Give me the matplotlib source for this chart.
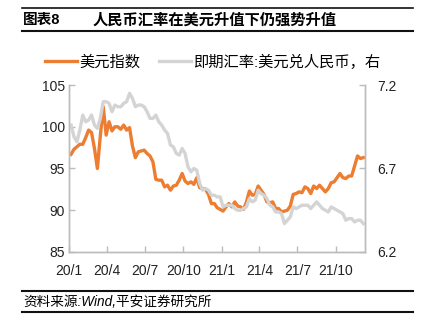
import matplotlib
matplotlib.use('Agg')
import matplotlib.pyplot as plt
import matplotlib.dates as mdates
from matplotlib.lines import Line2D
import pandas as pd

plt.rcParams['font.family'] = ['Liberation Sans', 'Noto Sans CJK SC']

# weekly (Monday) readings, 2020-01-06 .. 2021-12-06
dates = pd.date_range('2020-01-06', '2021-12-06', freq='W-MON')

dxy_2020 = [96.7, 97.3, 97.6, 97.9, 97.9, 98.7, 99.6, 99.3, 97.4, 95.0,
            98.9, 102.4, 99.0, 100.6, 99.5, 100.0, 100.0, 99.7, 100.2, 99.6,
            99.9, 97.7, 96.3, 97.0, 97.1, 97.2, 96.8, 96.5, 95.8, 93.7,
            93.6, 93.6, 92.8, 93.0, 92.4, 92.9, 93.0, 93.6, 94.4, 93.5,
            93.2, 93.4, 93.1, 93.9, 92.7, 92.6, 92.5, 91.9, 90.8, 90.8,
            90.3, 90.1]
dxy_2021 = [89.9, 90.4, 90.8, 90.4, 91.0, 90.5, 90.4, 90.1, 91.0, 92.3,
            91.8, 91.9, 92.9, 92.4, 91.9, 91.0, 90.9, 91.0, 90.2, 90.2,
            89.8, 89.9, 90.0, 90.5, 91.9, 92.0, 92.2, 92.1, 92.8, 92.6,
            92.0, 92.9, 92.6, 93.0, 92.6, 92.2, 92.6, 93.3, 93.4, 93.9,
            94.4, 93.9, 93.8, 94.1, 94.1, 95.3, 96.5, 96.2, 96.3]

cny_2020 = [6.96, 6.89, 6.86, 6.93, 7.02, 6.98, 6.99, 7.02, 6.96, 6.94,
            7.00, 7.10, 7.10, 7.09, 7.04, 7.08, 7.07, 7.07, 7.09, 7.10,
            7.15, 7.12, 7.07, 7.08, 7.08, 7.07, 7.04, 7.00, 7.00, 7.02,
            6.98, 6.96, 6.93, 6.91, 6.84, 6.83, 6.79, 6.78, 6.82, 6.79,
            6.71, 6.68, 6.70, 6.69, 6.61, 6.57, 6.58, 6.57, 6.54, 6.54,
            6.53, 6.53]
cny_2021 = [6.47, 6.48, 6.48, 6.48, 6.46, 6.45, 6.45, 6.46, 6.47, 6.52,
            6.50, 6.51, 6.57, 6.55, 6.54, 6.52, 6.48, 6.47, 6.44, 6.44,
            6.43, 6.37, 6.39, 6.41, 6.47, 6.46, 6.47, 6.48, 6.48, 6.48,
            6.46, 6.48, 6.50, 6.48, 6.46, 6.45, 6.44, 6.47, 6.46, 6.45,
            6.44, 6.43, 6.39, 6.40, 6.40, 6.38, 6.39, 6.39, 6.37]

dxy = dxy_2020 + dxy_2021
cny = cny_2020 + cny_2021

left_ticks = [85, 90, 95, 100, 105]
right_ticks = [6.2, 6.7, 7.2]
x_ticks = ['2020-01-01', '2020-04-01', '2020-07-01', '2020-10-01',
           '2021-01-01', '2021-04-01', '2021-07-01', '2021-10-01']
x_labels = ['20/1', '20/4', '20/7', '20/10', '21/1', '21/4', '21/7', '21/10']

orange = '#ed7d31'
gray = '#d4d4d4'
axis_c = '#bcbcbc'

fig = plt.figure(figsize=(4.22, 3.30), dpi=100)
ax = fig.add_axes([0.1635, 0.2364, 0.7015, 0.506])
ax2 = ax.twinx()

l1, = ax.plot(dates, dxy, color=orange, lw=2.4, solid_joinstyle='round')
l2, = ax2.plot(dates, cny, color=gray, lw=2.4, solid_joinstyle='round')

ax.set_xlim(pd.Timestamp('2020-01-01'), pd.Timestamp('2021-12-10'))
ax.set_ylim(85, 105)
ax2.set_ylim(6.2, 7.2)
ax.set_yticks(left_ticks)
ax.set_yticklabels([str(v) for v in left_ticks])
ax2.set_yticks(right_ticks)
ax2.set_yticklabels([str(v) for v in right_ticks])
ax.set_xticks([mdates.date2num(pd.Timestamp(d)) for d in x_ticks])
ax.set_xticklabels(x_labels)

for a in (ax, ax2):
    a.spines['top'].set_visible(False)
    for s in ('left', 'right', 'bottom'):
        a.spines[s].set_color(axis_c)
        a.spines[s].set_linewidth(1.0)
    a.tick_params(direction='in', length=4, width=1.0, color=axis_c,
                  labelsize=10, labelcolor='#222222')
ax.tick_params(axis='y', pad=3)
ax.tick_params(axis='x', pad=9)
ax2.tick_params(axis='y', pad=9)

fig.legend([l1, l2], ['美元指数', '即期汇率:美元兑人民币，右'],
           loc='center left', bbox_to_anchor=(0.107, 0.812), ncol=2,
           frameon=False, fontsize=11, handlelength=2.1, handletextpad=0.15,
           columnspacing=1.2, borderpad=0, borderaxespad=0)

# header and footer rules
for y, lw in ((1 - 8 / 330, 1.2), (1 - 31 / 330, 1.5), (1 - 291 / 330, 1.5), (1 - 312 / 330, 1.5)):
    fig.add_artist(Line2D([22 / 422, 413 / 422], [y, y], transform=fig.transFigure,
                          color='#111111', lw=lw))

fig.text(23 / 422, 1 - 20 / 330, '图表8', fontsize=10.5, fontweight='bold',
         va='center', ha='left')
fig.text(93 / 422, 1 - 20 / 330, '人民币汇率在美元升值下仍强势升值', fontsize=11,
         fontweight='bold', va='center', ha='left')
fig.text(23 / 422, 1 - 302 / 330, '资料来源:Wind,平安证券研究所', fontsize=9.8,
         fontstyle='italic', va='center', ha='left')

fig.savefig('out.png', dpi=100)
